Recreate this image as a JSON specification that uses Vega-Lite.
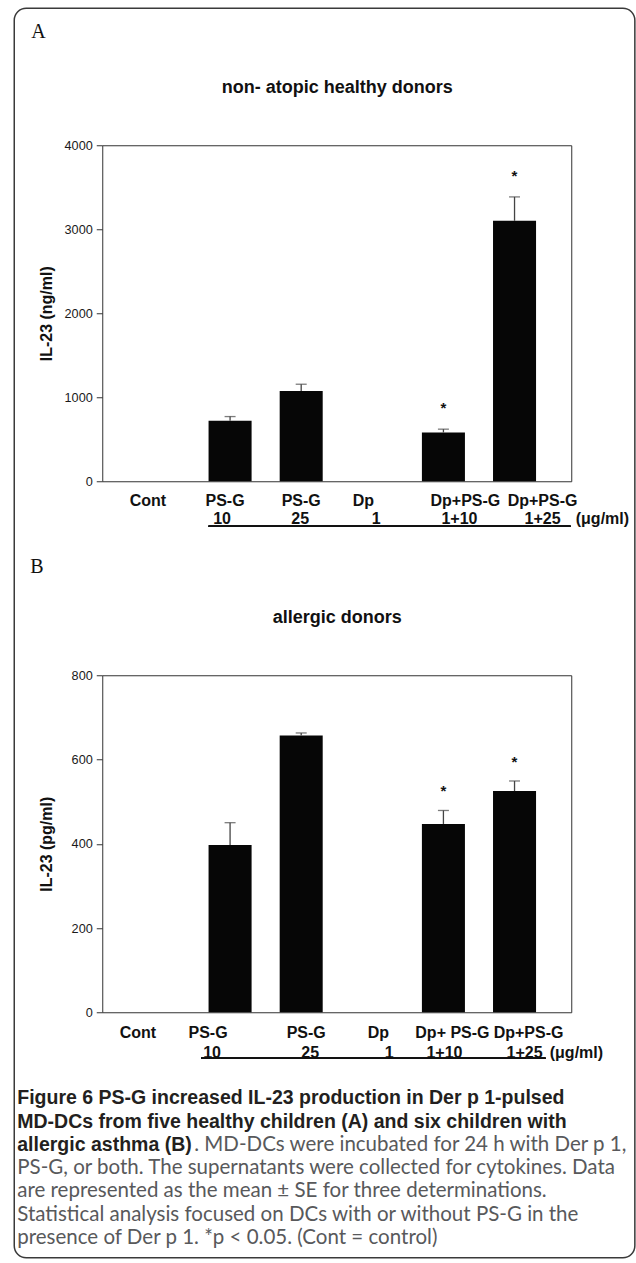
{
  "$schema": "https://vega.github.io/schema/vega-lite/v6.json",
  "background": "white",
  "padding": {"left": 13.25, "top": 7.25, "right": 0, "bottom": 0},
  "config": {
    "font": "Liberation Sans",
    "view": {"stroke": "#333333", "strokeWidth": 1},
    "axis": {"grid": false, "domain": false, "labelFont": "Liberation Sans", "titleFont": "Liberation Sans", "labelColor": "#1a1a1a", "titleColor": "#111111", "tickColor": "#333333"}
  },
  "datasets": {
    "A": [
      {"cond": "Cont|", "mean": 0, "upper": null, "sig": ""},
      {"cond": "PS-G|10", "mean": 720, "upper": 770, "sig": ""},
      {"cond": "PS-G|25", "mean": 1075, "upper": 1155, "sig": ""},
      {"cond": "Dp|1", "mean": 0, "upper": null, "sig": ""},
      {"cond": "Dp+PS-G|1+10", "mean": 580, "upper": 620, "sig": "*"},
      {"cond": "Dp+PS-G|1+25", "mean": 3100, "upper": 3385, "sig": "*"}
    ],
    "B": [
      {"cond": "Cont|", "mean": 0, "upper": null, "sig": ""},
      {"cond": "PS-G|10", "mean": 397, "upper": 450, "sig": ""},
      {"cond": "PS-G|25", "mean": 657, "upper": 663, "sig": ""},
      {"cond": "Dp|1", "mean": 0, "upper": null, "sig": ""},
      {"cond": "Dp+ PS-G|1+10", "mean": 447, "upper": 479, "sig": "*"},
      {"cond": "Dp+PS-G|1+25", "mean": 525, "upper": 549, "sig": "*"}
    ],
    "caption": [
      {"line": 1, "style": "bold", "text": "Figure 6 PS-G increased IL-23 production in Der p 1-pulsed"},
      {"line": 2, "style": "bold", "text": "MD-DCs from five healthy children (A) and six children with"},
      {"line": 3, "style": "bold", "text": "allergic asthma (B)"},
      {"line": 3, "style": "end", "text": ". MD-DCs were incubated for 24 h with Der p 1,"},
      {"line": 4, "style": "regular", "text": "PS-G, or both. The supernatants were collected for cytokines. Data"},
      {"line": 5, "style": "regular", "text": "are represented as the mean ± SE for three determinations."},
      {"line": 6, "style": "regular", "text": "Statistical analysis focused on DCs with or without PS-G in the"},
      {"line": 7, "style": "regular", "text": "presence of Der p 1. *p < 0.05. (Cont = control)"}
    ]
  },
  "bounds": "flush",
  "spacing": 194,
  "vconcat": [
    {
      "width": 469,
      "height": 336,
      "title": {"text": "A", "anchor": "start", "frame": "group", "font": "Liberation Serif", "fontSize": 20, "fontWeight": "normal", "color": "#111111", "offset": 36.5, "dx": -71},
      "data": {"name": "A"},
      "resolve": {"axis": {"x": "independent"}},
      "layer": [
        {
          "mark": {"type": "bar", "color": "#060606"},
          "encoding": {
            "x": {"field": "cond", "type": "nominal", "sort": null,
              "scale": {"domain": ["Cont|", "PS-G|10", "PS-G|25", "Dp|1", "Dp+PS-G|1+10", "Dp+PS-G|1+25"], "paddingInner": 0.395, "paddingOuter": 0.495},
              "axis": {"orient": "bottom", "title": null, "ticks": false, "tickSize": 0, "labelExpr": "split(datum.label, '|')[0]", "labelAngle": 0, "labelFontSize": 16, "labelFontWeight": "bold", "labelColor": "#111111", "labelPadding": 19, "labelBaseline": "middle", "labelOverlap": false, "labelBound": false,
                "labelOffset": {"condition": [
                  {"test": "datum.value == 'Cont|'", "value": -11},
                  {"test": "datum.value == 'PS-G|10'", "value": -5},
                  {"test": "datum.value == 'PS-G|25'", "value": 0},
                  {"test": "datum.value == 'Dp|1'", "value": -9},
                  {"test": "datum.value == 'Dp+PS-G|1+10'", "value": 22},
                  {"test": "datum.value == 'Dp+PS-G|1+25'", "value": 28}
                ], "value": 0}}},
            "y": {"field": "mean", "type": "quantitative", "scale": {"domain": [0, 4000], "nice": false},
              "axis": {"title": "IL-23 (ng/ml)", "format": "d", "values": [0, 1000, 2000, 3000, 4000], "tickSize": 6, "labelFontSize": 12.7, "labelPadding": 4, "titleFontSize": 16, "titleFontWeight": "bold", "titlePadding": 10}}
          }
        },
        {
          "transform": [{"filter": "datum.upper != null"}],
          "mark": {"type": "rule", "color": "#444444", "strokeWidth": 1.3},
          "encoding": {
            "x": {"field": "cond", "type": "nominal", "sort": null,
              "axis": {"orient": "top", "title": "non- atopic healthy donors", "labels": false, "ticks": false, "tickSize": 0, "titleFontSize": 18, "titleFontWeight": "bold", "titlePadding": 49}},
            "y": {"field": "mean", "type": "quantitative"},
            "y2": {"field": "upper"}
          }
        },
        {
          "transform": [{"filter": "datum.upper != null"}],
          "mark": {"type": "tick", "color": "#444444", "thickness": 1.3, "size": 11},
          "encoding": {
            "x": {"field": "cond", "type": "nominal", "sort": null,
              "axis": {"orient": "bottom", "title": "(μg/ml)", "ticks": false, "tickSize": 0, "labelExpr": "split(datum.label, '|')[1]", "labelAngle": 0, "labelFontSize": 16, "labelFontWeight": "bold", "labelColor": "#111111", "labelPadding": 37, "labelBaseline": "middle", "labelOverlap": false, "labelBound": false,
                "labelOffset": {"condition": [
                  {"test": "datum.value == 'PS-G|10'", "value": -8},
                  {"test": "datum.value == 'PS-G|25'", "value": -1},
                  {"test": "datum.value == 'Dp|1'", "value": 4},
                  {"test": "datum.value == 'Dp+PS-G|1+10'", "value": 16},
                  {"test": "datum.value == 'Dp+PS-G|1+25'", "value": 28}
                ], "value": 0},
                "titleX": 473, "titleY": 37, "titleAlign": "left", "titleBaseline": "middle", "titleAngle": 0, "titleFontSize": 16, "titleFontWeight": "bold"}},
            "y": {"field": "upper", "type": "quantitative"}
          }
        },
        {
          "transform": [{"filter": "datum.sig != ''"}],
          "mark": {"type": "text", "dy": -21, "fontSize": 15, "fontWeight": "bold", "color": "#111111"},
          "encoding": {
            "x": {"field": "cond", "type": "nominal", "sort": null, "axis": null},
            "y": {"field": "upper", "type": "quantitative"},
            "text": {"field": "sig"}
          }
        },
        {
          "mark": {"type": "rule", "color": "#111111", "strokeWidth": 1.5, "xOffset": -21.5, "x2Offset": 56},
          "encoding": {
            "x": {"datum": "PS-G|10", "type": "nominal", "axis": null},
            "x2": {"datum": "Dp+PS-G|1+25"},
            "y": {"datum": -536, "type": "quantitative"}
          }
        }
      ]
    },
    {
      "width": 469,
      "height": 337,
      "title": {"text": "B", "anchor": "start", "frame": "group", "font": "Liberation Serif", "fontSize": 20, "fontWeight": "normal", "color": "#111111", "offset": 31.5, "dx": -72},
      "data": {"name": "B"},
      "resolve": {"axis": {"x": "independent"}},
      "layer": [
        {
          "mark": {"type": "bar", "color": "#060606"},
          "encoding": {
            "x": {"field": "cond", "type": "nominal", "sort": null,
              "scale": {"domain": ["Cont|", "PS-G|10", "PS-G|25", "Dp|1", "Dp+ PS-G|1+10", "Dp+PS-G|1+25"], "paddingInner": 0.395, "paddingOuter": 0.495},
              "axis": {"orient": "bottom", "title": null, "ticks": false, "tickSize": 0, "labelExpr": "split(datum.label, '|')[0]", "labelAngle": 0, "labelFontSize": 16, "labelFontWeight": "bold", "labelColor": "#111111", "labelPadding": 20, "labelBaseline": "middle", "labelOverlap": false, "labelBound": false,
                "labelOffset": {"condition": [
                  {"test": "datum.value == 'Cont|'", "value": -21},
                  {"test": "datum.value == 'PS-G|10'", "value": -22},
                  {"test": "datum.value == 'PS-G|25'", "value": 5},
                  {"test": "datum.value == 'Dp|1'", "value": 6},
                  {"test": "datum.value == 'Dp+ PS-G|1+10'", "value": 9},
                  {"test": "datum.value == 'Dp+PS-G|1+25'", "value": 14}
                ], "value": 0}}},
            "y": {"field": "mean", "type": "quantitative", "scale": {"domain": [0, 800], "nice": false},
              "axis": {"title": "IL-23 (pg/ml)", "format": "d", "values": [0, 200, 400, 600, 800], "tickSize": 6, "labelFontSize": 12.7, "labelPadding": 4, "titleFontSize": 16, "titleFontWeight": "bold", "titlePadding": 17}}
          }
        },
        {
          "transform": [{"filter": "datum.upper != null"}],
          "mark": {"type": "rule", "color": "#444444", "strokeWidth": 1.3},
          "encoding": {
            "x": {"field": "cond", "type": "nominal", "sort": null,
              "axis": {"orient": "top", "title": "allergic donors", "labels": false, "ticks": false, "tickSize": 0, "titleFontSize": 18, "titleFontWeight": "bold", "titlePadding": 49}},
            "y": {"field": "mean", "type": "quantitative"},
            "y2": {"field": "upper"}
          }
        },
        {
          "transform": [{"filter": "datum.upper != null"}],
          "mark": {"type": "tick", "color": "#444444", "thickness": 1.3, "size": 11},
          "encoding": {
            "x": {"field": "cond", "type": "nominal", "sort": null,
              "axis": {"orient": "bottom", "title": "(μg/ml)", "ticks": false, "tickSize": 0, "labelExpr": "split(datum.label, '|')[1]", "labelAngle": 0, "labelFontSize": 16, "labelFontWeight": "bold", "labelColor": "#111111", "labelPadding": 40, "labelBaseline": "middle", "labelOverlap": false, "labelBound": false,
                "labelOffset": {"condition": [
                  {"test": "datum.value == 'PS-G|10'", "value": -18},
                  {"test": "datum.value == 'PS-G|25'", "value": 9},
                  {"test": "datum.value == 'Dp|1'", "value": 17},
                  {"test": "datum.value == 'Dp+ PS-G|1+10'", "value": 1},
                  {"test": "datum.value == 'Dp+PS-G|1+25'", "value": 10}
                ], "value": 0},
                "titleX": 447, "titleY": 40, "titleAlign": "left", "titleBaseline": "middle", "titleAngle": 0, "titleFontSize": 16, "titleFontWeight": "bold"}},
            "y": {"field": "upper", "type": "quantitative"}
          }
        },
        {
          "transform": [{"filter": "datum.sig != ''"}],
          "mark": {"type": "text", "dy": -19, "fontSize": 15, "fontWeight": "bold", "color": "#111111"},
          "encoding": {
            "x": {"field": "cond", "type": "nominal", "sort": null, "axis": null},
            "y": {"field": "upper", "type": "quantitative"},
            "text": {"field": "sig"}
          }
        },
        {
          "mark": {"type": "rule", "color": "#111111", "strokeWidth": 1.5, "xOffset": -29, "x2Offset": 31},
          "encoding": {
            "x": {"datum": "PS-G|10", "type": "nominal", "axis": null},
            "x2": {"datum": "Dp+PS-G|1+25"},
            "y": {"datum": -109, "type": "quantitative"}
          }
        }
      ]
    },
    {
      "width": 469,
      "height": 23.3,
      "view": {"stroke": null},
      "data": {"name": "caption"},
      "layer": [
        {
          "transform": [{"filter": "datum.line == 1"}],
          "mark": {"type": "rect", "filled": false, "stroke": "#3a3a3a", "strokeWidth": 1.5, "cornerRadius": 12},
          "encoding": {
            "x": {"datum": -0.18763, "type": "quantitative", "scale": {"domain": [0, 1]}, "axis": null},
            "x2": {"datum": 1.13561},
            "y": {"datum": -45.781, "type": "quantitative", "scale": {"domain": [5.6352, 6.6352], "reverse": true, "nice": false, "zero": false}, "axis": null},
            "y2": {"datum": 7.8455}
          }
        },
        {
          "transform": [{"filter": "datum.style == 'bold'"}],
          "mark": {"type": "text", "align": "left", "baseline": "middle", "font": "Liberation Sans", "fontSize": 19.5, "fontWeight": "bold", "color": "#231f20", "dx": -85},
          "encoding": {
            "x": {"datum": 0, "type": "quantitative", "axis": null},
            "y": {"field": "line", "type": "quantitative", "axis": null},
            "text": {"field": "text"}
          }
        },
        {
          "transform": [{"filter": "datum.style == 'regular'"}],
          "mark": {"type": "text", "align": "left", "baseline": "middle", "font": "Lato", "fontSize": 20.5, "fontWeight": "normal", "color": "#58595b", "dx": -85},
          "encoding": {
            "x": {"datum": 0, "type": "quantitative", "axis": null},
            "y": {"field": "line", "type": "quantitative", "axis": null},
            "text": {"field": "text"}
          }
        },
        {
          "transform": [{"filter": "datum.style == 'end'"}],
          "mark": {"type": "text", "align": "left", "baseline": "middle", "font": "Lato", "fontSize": 20.5, "fontWeight": "normal", "color": "#58595b", "dx": 92},
          "encoding": {
            "x": {"datum": 0, "type": "quantitative", "axis": null},
            "y": {"field": "line", "type": "quantitative", "axis": null},
            "text": {"field": "text"}
          }
        }
      ]
    }
  ]
}
